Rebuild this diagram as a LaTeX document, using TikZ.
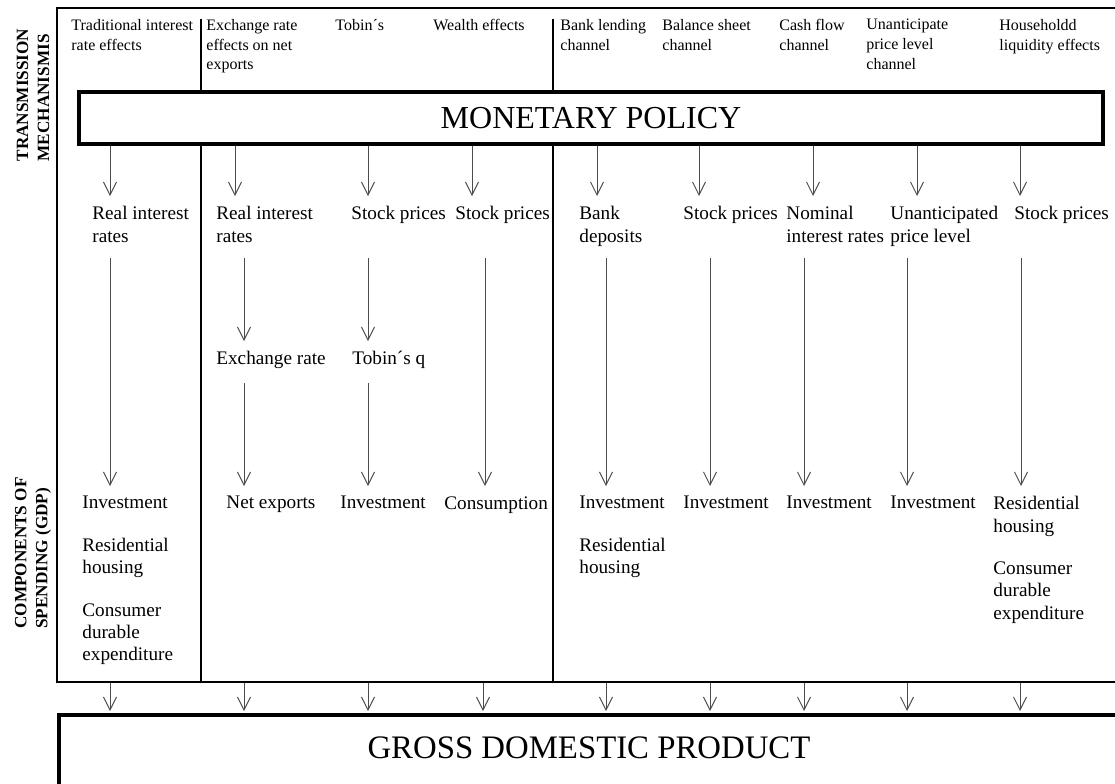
\documentclass[tikz,border=0pt]{standalone}
\usepackage{fontspec}
\setmainfont{Liberation Serif}
\usetikzlibrary{arrows.meta}

\begin{document}
\begin{tikzpicture}[x=0.5pt,y=-0.5pt,
    lbl/.style={anchor=north west,inner sep=0pt,align=left,font=\fontsize{9.6}{11.2}\selectfont},
    toptext/.style={anchor=north west,inner sep=0pt,align=left,font=\fontsize{8}{9.8}\selectfont},
    sidetext/.style={rotate=90,inner sep=0pt,align=left,font=\fontsize{8.6}{10.5}\selectfont\bfseries},
    arr/.style={draw=black!70,line width=0.5pt,-{Straight Barb[length=6.5pt,width=6.5pt]},shorten >=5pt},
    divider/.style={line width=1.2pt}]
		\useasboundingbox (0,0) rectangle (1115,783);
		\clip (0,0) rectangle (1115,783);
		% frame, dividers and the two big boxes
		\node (frame) [draw,line width=0.6pt,inner sep=0pt,minimum width=536.5pt,minimum height=337pt] at (593.5,345) {};
		\draw[divider] (201,19) -- (201,682);
		\draw[divider] (553,19) -- (553,682);
		\node (policy) [draw,fill=white,line width=2pt,minimum width=512pt,minimum height=26pt,font=\fontsize{16}{18}\selectfont] at (591,118) {MONETARY POLICY};
		\node (gdpbox) [draw,line width=2pt,minimum width=533pt,minimum height=42.5pt] at (592,757.5) {};
		\node (gdp) [font=\fontsize{16.4}{18}\selectfont] at (589,748) {GROSS DOMESTIC PRODUCT};
		\node (trans) [sidetext] at (33,95) {TRANSMISSION\\MECHANISMIS};
		\node (comp) [sidetext] at (33,553) {COMPONENTS OF\\SPENDING (GDP)};
		% channels
		\node (h1) [toptext] at (71,19) {Traditional interest\\rate effects};
		\node (h2) [toptext] at (206,19) {Exchange rate\\effects on net\\exports};
		\node (h3) [toptext] at (335,19) {Tobin´s};
		\node (h4) [toptext] at (433,19) {Wealth effects};
		\node (h5) [toptext] at (560,19) {Bank lending\\channel};
		\node (h6) [toptext] at (662,19) {Balance sheet\\channel};
		\node (h7) [toptext] at (779,19) {Cash flow\\channel};
		\node (h8) [toptext] at (866,19) {Unanticipate\\price level\\channel};
		\node (h9) [toptext] at (999,19) {Householdd\\liquidity effects};
		% first step
		\node (ri1) [lbl] at (92,206) {Real interest\\rates};
		\node (ri2) [lbl] at (216,206) {Real interest\\rates};
		\node (sp3) [lbl] at (351,206) {Stock prices};
		\node (sp4) [lbl] at (455,206) {Stock prices};
		\node (bd5) [lbl] at (579,206) {Bank\\deposits};
		\node (sp6) [lbl] at (683,206) {Stock prices};
		\node (ni7) [lbl] at (786,206) {Nominal\\interest rates};
		\node (up8) [lbl] at (890,206) {Unanticipated\\price level};
		\node (sp9) [lbl] at (1014,206) {Stock prices};
		\node (ex2) [lbl] at (216,351) {Exchange rate};
		\node (tq3) [lbl] at (352,351) {Tobin´s q};
		% components of spending
		\node (in1) [lbl] at (82,496) {Investment\\[10pt]Residential\\housing\\[10pt]Consumer\\durable\\expenditure};
		\node (ne2) [lbl] at (226,496) {Net exports};
		\node (in3) [lbl] at (340,496) {Investment};
		\node (co4) [lbl] at (444,496) {Consumption};
		\node (in5) [lbl] at (579,496) {Investment\\[10pt]Residential\\housing};
		\node (in6) [lbl] at (683,496) {Investment};
		\node (in7) [lbl] at (786,496) {Investment};
		\node (in8) [lbl] at (890,496) {Investment};
		\node (rh9) [lbl] at (993,496) {Residential\\housing\\[10pt]Consumer\\durable\\expenditure};
		% arrows out of the policy box
		\draw[arr] (policy.south -| 110,0) -- (ri1.north -| 110,0);
		\draw[arr] (policy.south -| 235,0) -- (ri2.north -| 235,0);
		\draw[arr] (policy.south -| 368,0) -- (sp3.north -| 368,0);
		\draw[arr] (policy.south -| 472,0) -- (sp4.north -| 472,0);
		\draw[arr] (policy.south -| 597,0) -- (bd5.north -| 597,0);
		\draw[arr] (policy.south -| 699,0) -- (sp6.north -| 699,0);
		\draw[arr] (policy.south -| 813,0) -- (ni7.north -| 813,0);
		\draw[arr] (policy.south -| 917,0) -- (up8.north -| 917,0);
		\draw[arr] (policy.south -| 1020,0) -- (sp9.north -| 1020,0);
		% arrows down to the components
		\coordinate (s1) at (110,258);
		\coordinate (s2) at (244,258);
		\coordinate (s3) at (368,258);
		\coordinate (s4) at (485,258);
		\coordinate (s5) at (606,258);
		\coordinate (s6) at (710,258);
		\coordinate (s7) at (804,258);
		\coordinate (s8) at (907,258);
		\coordinate (s9) at (1021,258);
		\coordinate (s2b) at (244,383);
		\coordinate (s3b) at (368,383);
		\draw[arr] (s1) -- (in1.north -| s1);
		\draw[arr] (s2) -- (ex2.north -| s2);
		\draw[arr] (s2b) -- (ne2.north -| s2b);
		\draw[arr] (s3) -- (tq3.north -| s3);
		\draw[arr] (s3b) -- (in3.north -| s3b);
		\draw[arr] (s4) -- (co4.north -| s4);
		\draw[arr] (s5) -- (in5.north -| s5);
		\draw[arr] (s6) -- (in6.north -| s6);
		\draw[arr] (s7) -- (in7.north -| s7);
		\draw[arr] (s8) -- (in8.north -| s8);
		\draw[arr] (s9) -- (rh9.north -| s9);
		% arrows into GDP
		\draw[arr,shorten >=1pt] (frame.south -| 110,0) -- (gdpbox.north -| 110,0);
		\draw[arr,shorten >=1pt] (frame.south -| 244,0) -- (gdpbox.north -| 244,0);
		\draw[arr,shorten >=1pt] (frame.south -| 368,0) -- (gdpbox.north -| 368,0);
		\draw[arr,shorten >=1pt] (frame.south -| 483,0) -- (gdpbox.north -| 483,0);
		\draw[arr,shorten >=1pt] (frame.south -| 606,0) -- (gdpbox.north -| 606,0);
		\draw[arr,shorten >=1pt] (frame.south -| 710,0) -- (gdpbox.north -| 710,0);
		\draw[arr,shorten >=1pt] (frame.south -| 804,0) -- (gdpbox.north -| 804,0);
		\draw[arr,shorten >=1pt] (frame.south -| 907,0) -- (gdpbox.north -| 907,0);
		\draw[arr,shorten >=1pt] (frame.south -| 1020,0) -- (gdpbox.north -| 1020,0);
\end{tikzpicture}
\end{document}
